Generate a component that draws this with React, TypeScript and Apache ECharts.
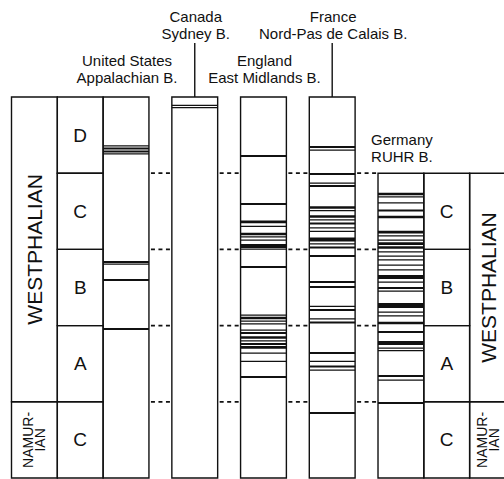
import { useEffect, useRef } from "react";
import * as echarts from "echarts";

// Depths are given in stage units: 0 = top of Westphalian D, each stage spans 1 unit.
const basinNames: string[][] = [
  ["United States", "Appalachian B."],
  ["Canada", "Sydney B."],
  ["England", "East Midlands B."],
  ["France", "Nord-Pas de Calais B."],
  ["Germany", "RUHR B."],
];
const sectionTop = [0, 0, 0, 0, 1];
const sectionBase = 5;

const leftStages = ["D", "C", "B", "A", "C"];
const ruhrStages = ["C", "B", "A", "C"];
const periodNames = ["WESTPHALIAN", "NAMUR-\nIAN"];
const leftPeriodSpans = [[0, 4], [4, 5]];
const ruhrPeriodSpans = [[1, 4], [4, 5]];
const correlationLevels = [1, 2, 3, 4];

// Coal seams: [depth, thickness class 1..5]
const appalachianSeams = [
  [0.643, 1], [0.676, 2], [0.715, 2], [0.748, 1],
  [2.165, 2], [2.192, 1], [2.402, 2], [3.045, 2],
];
const sydneySeams = [[0.109, 1], [0.138, 1]];
const eastMidlandsSeams = [
  [0.774, 2], [1.404, 2], [1.64, 3], [1.699, 1], [1.798, 3], [1.837, 1],
  [1.877, 1], [1.955, 4], [1.995, 1], [2.231, 2], [2.861, 1], [2.9, 3],
  [2.94, 1], [2.979, 1], [3.058, 1], [3.097, 2], [3.156, 3], [3.202, 1],
  [3.241, 2], [3.287, 3], [3.36, 1], [3.471, 1], [3.675, 2],
];
const nordPasSeams = [
  [0.656, 2], [0.696, 1], [1.01, 2], [1.129, 1], [1.168, 2], [1.45, 3],
  [1.49, 1], [1.568, 3], [1.614, 1], [1.66, 2], [1.719, 1], [1.765, 1],
  [1.87, 4], [1.929, 1], [1.975, 2], [2.087, 2], [2.428, 2], [2.493, 2],
  [2.749, 1], [2.795, 2], [2.913, 1], [2.959, 2], [3.36, 2], [3.471, 1],
  [3.537, 2], [3.583, 1], [4.147, 2],
];
const ruhrSeams = [
  [1.273, 3], [1.312, 1], [1.391, 1], [1.49, 2], [1.575, 3], [1.772, 3],
  [1.824, 1], [1.877, 1], [1.923, 3], [1.975, 3], [2.034, 1], [2.087, 1],
  [2.139, 1], [2.205, 1], [2.27, 1], [2.362, 4], [2.428, 1], [2.507, 2],
  [2.546, 1], [2.736, 5], [2.822, 1], [2.874, 1], [2.966, 3], [3.084, 2],
  [3.228, 4], [3.294, 1], [3.327, 1], [3.661, 2], [3.714, 1], [4.016, 2],
];
const seamsByBasin = [appalachianSeams, sydneySeams, eastMidlandsSeams, nordPasSeams, ruhrSeams];

// Layout on the x axis (slot units)
const COL_W = 2;
const basinSlot = (i: number) => 4 + 3 * i;
const LEFT_PERIOD_SLOT = 0;
const LEFT_STAGE_SLOT = 2;
const RUHR_STAGE_SLOT = 18;
const RUHR_PERIOD_SLOT = 20;

const INK = "#111111";
const FONT = "'Liberation Sans', Arial, Helvetica, sans-serif";
const BOX_W = 1.4;
const seamWidth = [0, 1.25, 1.9, 2.7, 4, 5.2];
const headerRaise = [20, 64, 20, 64, 17];
const headerLeader = [false, true, false, true, false];

export default function App() {
  const ref = useRef<HTMLDivElement>(null);

  useEffect(() => {
    const chart = echarts.init(ref.current!, null, { renderer: "svg" });

    const stageCells = [
      ...leftStages.map((_, k) => [LEFT_STAGE_SLOT, k, k + 1]),
      ...ruhrStages.map((_, k) => [RUHR_STAGE_SLOT, k + 1, k + 2]),
    ];
    const stageLabels = [...leftStages, ...ruhrStages];

    const periodCells = [
      ...leftPeriodSpans.map(([a, b]) => [LEFT_PERIOD_SLOT, a, b]),
      ...ruhrPeriodSpans.map(([a, b]) => [RUHR_PERIOD_SLOT, a, b]),
    ];
    const periodLabels = [...periodNames, ...periodNames];
    const periodTextShift = [1, 1, 0.82, 0.82];

    const rectOf = (api: any, x0: number, y0: number, x1: number, y1: number) => {
      const a = api.coord([x0, y0]);
      const b = api.coord([x1, y1]);
      return { x: a[0], y: a[1], width: b[0] - a[0], height: b[1] - a[1] };
    };

    const option: any = {
      animation: false,
      backgroundColor: "#ffffff",
      grid: { left: 11.5, right: 0, top: 97, bottom: 1 },
      xAxis: { type: "value", min: 0, max: 21.5, show: false },
      yAxis: { type: "value", min: 0, max: 5, inverse: true, show: false },
      series: [
        {
          name: "sections",
          type: "custom",
          silent: true,
          data: basinNames.map((_, i) => [basinSlot(i), sectionTop[i], sectionBase]),
          renderItem: (_p: any, api: any) => ({
            type: "rect",
            shape: rectOf(api, api.value(0), api.value(1), api.value(0) + COL_W, api.value(2)),
            style: { fill: "none", stroke: INK, lineWidth: BOX_W },
          }),
        },
        {
          name: "stages",
          type: "custom",
          silent: true,
          data: stageCells,
          renderItem: (p: any, api: any) => {
            const r = rectOf(api, api.value(0), api.value(1), api.value(0) + COL_W, api.value(2));
            return {
              type: "group",
              children: [
                { type: "rect", shape: r, style: { fill: "none", stroke: INK, lineWidth: BOX_W } },
                {
                  type: "text",
                  x: r.x + r.width / 2,
                  y: r.y + r.height / 2,
                  style: {
                    text: stageLabels[p.dataIndex],
                    align: "center",
                    verticalAlign: "middle",
                    font: `19px ${FONT}`,
                    fill: INK,
                  },
                },
              ],
            };
          },
        },
        {
          name: "periods",
          type: "custom",
          silent: true,
          data: periodCells,
          renderItem: (p: any, api: any) => {
            const r = rectOf(api, api.value(0), api.value(1), api.value(0) + COL_W, api.value(2));
            const label = periodLabels[p.dataIndex];
            const big = label === "WESTPHALIAN";
            const cx = api.coord([api.value(0) + periodTextShift[p.dataIndex], 0])[0];
            return {
              type: "group",
              children: [
                { type: "rect", shape: r, style: { fill: "none", stroke: INK, lineWidth: BOX_W } },
                {
                  type: "text",
                  x: cx,
                  y: r.y + r.height / 2,
                  rotation: Math.PI / 2,
                  style: {
                    text: label,
                    align: "center",
                    verticalAlign: "middle",
                    font: big ? `21px ${FONT}` : `14px ${FONT}`,
                    lineHeight: big ? 24 : 12,
                    fill: INK,
                  },
                },
              ],
            };
          },
        },
        {
          name: "seams",
          type: "custom",
          silent: true,
          data: seamsByBasin.flatMap((list, i) => list.map(([d, c]) => [basinSlot(i), d, c])),
          renderItem: (_p: any, api: any) => {
            const a = api.coord([api.value(0), api.value(1)]);
            const b = api.coord([api.value(0) + COL_W, api.value(1)]);
            return {
              type: "line",
              shape: { x1: a[0], y1: a[1], x2: b[0], y2: b[1] },
              style: { stroke: INK, lineWidth: seamWidth[api.value(2)] },
            };
          },
        },
        {
          name: "correlation",
          type: "custom",
          silent: true,
          data: correlationLevels.flatMap((lvl) =>
            [0, 1, 2, 3].map((g) => [basinSlot(g) + COL_W, lvl, basinSlot(g + 1)])
          ),
          renderItem: (_p: any, api: any) => {
            const a = api.coord([api.value(0), api.value(1)]);
            const b = api.coord([api.value(2), api.value(1)]);
            return {
              type: "line",
              shape: { x1: a[0] + 2, y1: a[1], x2: b[0] - 1, y2: b[1] },
              style: { stroke: INK, lineWidth: 1.7, lineDash: [4, 3.5] },
            };
          },
        },
        {
          name: "basins",
          type: "custom",
          silent: true,
          data: basinNames.map((_, i) => [basinSlot(i) + COL_W / 2, sectionTop[i]]),
          renderItem: (p: any, api: any) => {
            const i = p.dataIndex;
            const pt = api.coord([api.value(0), api.value(1)]);
            const lower = pt[1] - headerRaise[i];
            const textStyle = (t: string) => ({
              text: t,
              align: "center",
              verticalAlign: "middle",
              font: `15px ${FONT}`,
              fill: INK,
            });
            const children: any[] = [
              { type: "text", x: pt[0] + 1, y: lower - 17, style: textStyle(basinNames[i][0]) },
              { type: "text", x: pt[0] + 1, y: lower, style: textStyle(basinNames[i][1]) },
            ];
            if (headerLeader[i]) {
              children.push({
                type: "line",
                shape: { x1: pt[0], y1: pt[1] - 54, x2: pt[0], y2: pt[1] },
                style: { stroke: INK, lineWidth: BOX_W },
              });
            }
            return { type: "group", children };
          },
        },
      ],
    };

    chart.setOption(option);
    return () => chart.dispose();
  }, []);

  return (
    <div
      ref={ref}
      style={{ position: "fixed", left: 0, top: 0, width: 504, height: 479, background: "#fff" }}
    />
  );
}
